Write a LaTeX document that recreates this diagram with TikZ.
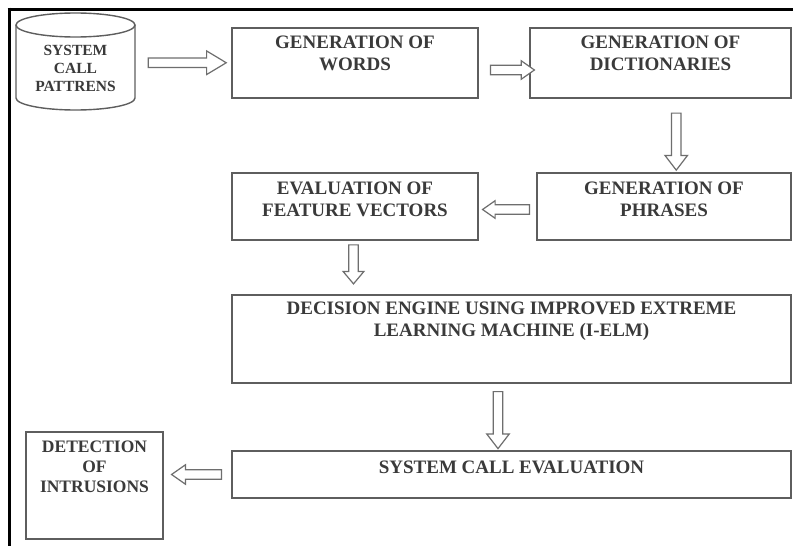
\documentclass[tikz,border=0pt]{standalone}
\usepackage{fontspec}
\setmainfont{Liberation Serif}
\usetikzlibrary{shapes.arrows,calc}
\definecolor{txtgray}{HTML}{3A3A3A}
\definecolor{boxgray}{HTML}{5E5E5E}
\definecolor{arrgray}{HTML}{6E6E6E}
\begin{document}
\begin{tikzpicture}[x=1pt,y=1pt,
  box/.style={draw=boxgray, line width=1.4pt, inner sep=0pt, fill=white},
  lbl/.style={anchor=north, align=center, text=txtgray, inner sep=0pt,
    font=\fontsize{19}{22}\selectfont\bfseries},
  barrow/.style={single arrow, draw=arrgray, line width=1.2pt, fill=white,
    inner xsep=0pt, inner ysep=4.2pt, single arrow tip angle=75}
]
\useasboundingbox (0,0) rectangle (793,-546);
\fill[white] (0,0) rectangle (793,-546);
% frame
\draw[line width=3pt] (7.5,-9) -- (793,-9);
\draw[line width=3pt] (9.5,-7.5) -- (9.5,-546);

% database cylinder
\draw[boxgray, line width=1.4pt] (16,-25) -- (16,-98) arc[start angle=180, end angle=360, x radius=59.5pt, y radius=12pt] -- (135,-25);
\draw[boxgray, line width=1.4pt] (75.5,-25) ellipse[x radius=59.5pt, y radius=12pt];
\node[inner sep=0pt, minimum width=119, minimum height=97] (db) at (75.5,-62.5) {};
\node[lbl, font=\fontsize{15.5}{18}\selectfont\bfseries] (dbt) at (75.5,-45.5) {SYSTEM\\CALL\\PATTRENS};

% boxes
\node[box, minimum width=246, minimum height=70] (words) at (355,-63) {};
\node[box, minimum width=261, minimum height=70] (dict) at (660.5,-63) {};
\node[box, minimum width=254, minimum height=67] (phr) at (664,-206.5) {};
\node[box, minimum width=246, minimum height=67] (eval) at (355,-206.5) {};
\node[box, minimum width=559, minimum height=88] (dec) at (511.5,-339) {};
\node[box, minimum width=559, minimum height=47] (sys) at (511.5,-474.5) {};
\node[box, minimum width=137, minimum height=107] (det) at (94.5,-485.5) {};

% labels
\node[lbl] (wordst) at ($(words.north)+(0,-8.5)$) {GENERATION OF\\WORDS};
\node[lbl] (dictt) at ($(dict.north)+(0,-8.5)$) {GENERATION OF\\DICTIONARIES};
\node[lbl] (phrt) at ($(phr.north)+(0,-9.5)$) {GENERATION OF\\PHRASES};
\node[lbl] (evalt) at ($(eval.north)+(0,-9.5)$) {EVALUATION OF\\FEATURE VECTORS};
\node[lbl] (dect) at ($(dec.north)+(0,-7.5)$) {DECISION ENGINE USING IMPROVED EXTREME\\LEARNING MACHINE (I-ELM)};
\node[lbl] (syst) at ($(sys.north)+(0,-10)$) {SYSTEM CALL EVALUATION};
\node[lbl, font=\fontsize{17.5}{20}\selectfont\bfseries] (dett) at ($(det.north)+(0,-9)$) {DETECTION\\OF\\INTRUSIONS};

% hollow block arrows
\node[barrow, minimum height=78, single arrow head extend=7, single arrow tip angle=62]
  (a1) at ($(db.east)!0.5!(words.west)+(0,0)$) {};
\node[barrow, minimum height=44, single arrow head extend=4.5, single arrow tip angle=70]
  (a2) at ($(words.east)!0.5!(dict.west)+(5,-7)$) {};
\node[barrow, minimum height=57, single arrow head extend=6.5, rotate=-90]
  (a3) at ($(dict.south)!0.5!(phr.north)+(14,-3)$) {};
\node[barrow, minimum height=47, single arrow head extend=4, single arrow tip angle=70, rotate=180]
  (a4) at ($(eval.east)!0.5!(phr.west)+(2,-3)$) {};
\node[barrow, minimum height=39, single arrow head extend=5.5, single arrow tip angle=80, rotate=-90]
  (a5) at ($(eval.south |- eval.south)!0.5!(eval.south |- dec.north)+(-1.5,6)$) {};
\node[barrow, minimum height=57, single arrow head extend=6.5, rotate=-90]
  (a6) at ($(dec.south)!0.5!(sys.north)+(-13.5,-0)$) {};
\node[barrow, minimum height=50, single arrow head extend=5, single arrow tip angle=70, rotate=180]
  (a7) at ($(det.east)!0.5!(sys.west)+(2.5,5.5)$) {};
\end{tikzpicture}
\end{document}
